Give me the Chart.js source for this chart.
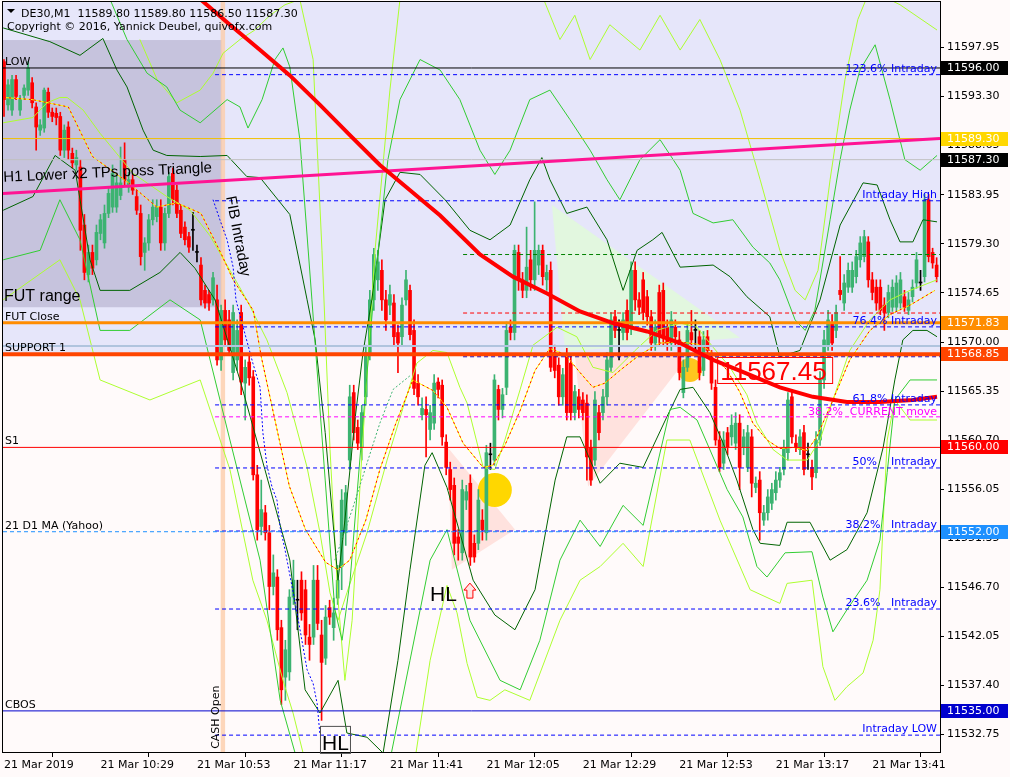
<!DOCTYPE html>
<html>
<head>
<meta charset="utf-8">
<title>DE30,M1</title>
<script src="https://cdn.jsdelivr.net/npm/chart.js@4.4.1/dist/chart.umd.min.js"></script>
<style>
  html, body { margin: 0; padding: 0; background: #fffafa; }
  canvas { display: block; }
</style>
</head>
<body>
<canvas id="chart" width="1010" height="777"></canvas>
<script>
// bar index 0 = 10:05, one bar per minute
const timeTicks = [0, 24, 48, 72, 96, 120, 144, 168, 192, 216];
const timeLabels = ['21 Mar 2019', '21 Mar 10:29', '21 Mar 10:53', '21 Mar 11:17', '21 Mar 11:41',
                    '21 Mar 12:05', '21 Mar 12:29', '21 Mar 12:53', '21 Mar 13:17', '21 Mar 13:41'];
const priceTicks = [11597.95, 11593.30, 11588.65, 11583.95, 11579.30, 11574.65, 11570.00, 11565.35,
                    11560.70, 11556.05, 11551.35, 11546.70, 11542.05, 11537.40, 11532.75];

const opens = [
  11596.6,11592.5,11592.0,11594.9,11592.0,11593.4,11593.9,11594.6,11592.3,11590.1,
  11590.3,11593.7,11591.8,11591.7,11591.4,11588.2,11590.4,11587.9,11586.8,11586.6,
  11581.1,11576.4,11578.5,11577.8,11580.3,11579.4,11582.2,11582.8,11582.8,11583.9,
  11587.3,11584.7,11585.4,11583.8,11582.2,11578.5,11579.4,11581.6,11581.9,11582.8,
  11579.4,11582.2,11586.0,11584.4,11582.5,11580.9,11580.0,11580.6,11578.5,11577.3,
  11574.9,11574.5,11574.0,11574.0,11568.3,11573.0,11572.1,11567.1,11568.3,11572.8,
  11566.1,11568.1,11566.7,11557.4,11552.5,11553.8,11551.9,11546.8,11547.7,11542.9,
  11538.2,11538.7,11545.8,11545.5,11547.4,11546.5,11542.0,11542.0,11547.4,11542.2,
  11540.0,11544.8,11542.9,11545.7,11548.7,11551.9,11558.8,11565.2,11561.9,11560.0,
  11564.8,11569.0,11574.0,11575.9,11576.8,11574.0,11573.5,11573.7,11570.9,11570.5,
  11574.0,11574.9,11571.1,11566.1,11563.1,11563.6,11561.7,11562.3,11566.2,11565.9,
  11560.5,11557.9,11556.4,11551.5,11550.0,11555.0,11556.6,11550.9,11550.9,11553.1,
  11551.9,11559.3,11558.8,11565.5,11563.6,11565.7,11571.4,11570.9,11578.5,11575.9,
  11574.9,11577.8,11575.9,11577.3,11578.7,11575.9,11576.8,11569.0,11567.8,11564.8,
  11568.8,11568.0,11563.3,11564.8,11564.5,11564.2,11560.0,11558.8,11563.3,11563.3,
  11564.8,11567.6,11572.4,11571.1,11570.9,11573.0,11571.4,11576.8,11574.0,11575.9,
  11574.3,11572.4,11569.9,11574.7,11574.9,11571.4,11569.9,11571.4,11570.2,11565.2,
  11567.6,11570.9,11571.1,11570.5,11567.3,11570.5,11568.6,11565.7,11560.7,11558.5,
  11561.4,11561.0,11560.4,11562.3,11560.0,11558.1,11561.0,11556.2,11556.9,11553.1,
  11553.8,11554.7,11555.7,11556.9,11557.9,11559.5,11564.8,11560.4,11559.8,11561.4,
  11559.3,11558.1,11557.6,11560.7,11566.4,11569.7,11571.8,11571.1,11574.9,11573.7,
  11575.2,11575.2,11576.2,11577.8,11578.1,11579.5,11575.9,11575.2,11575.2,11573.5,
  11572.8,11573.3,11573.3,11573.7,11574.3,11573.0,11574.3,11575.6,11575.6,11576.2,
  11583.5,11578.5,11577.3
];
const highs = [
  11596.8,11594.9,11595.3,11595.3,11593.4,11594.4,11596.6,11595.1,11592.7,11591.1,
  11594.1,11594.1,11592.2,11592.2,11591.8,11590.6,11590.9,11588.4,11588.2,11587.3,
  11582.1,11579.2,11579.2,11581.1,11582.1,11583.0,11584.6,11586.8,11585.9,11588.5,
  11588.9,11586.1,11585.9,11584.4,11583.0,11579.9,11582.1,11583.5,11583.5,11583.5,
  11582.7,11586.1,11586.5,11584.9,11583.0,11581.4,11580.4,11582.3,11579.2,11578.0,
  11575.4,11574.9,11576.6,11575.4,11573.5,11574.0,11573.0,11573.5,11572.1,11573.5,
  11568.3,11568.8,11567.3,11558.3,11556.9,11554.5,11552.6,11549.8,11548.4,11543.6,
  11541.7,11546.5,11549.3,11547.4,11548.2,11547.4,11543.2,11548.8,11548.8,11543.6,
  11545.0,11545.5,11545.7,11548.8,11556.0,11556.4,11565.9,11565.9,11562.6,11564.0,
  11569.7,11574.9,11578.9,11578.7,11577.8,11574.9,11575.4,11574.5,11571.6,11574.2,
  11576.8,11575.4,11572.1,11566.9,11564.7,11564.8,11564.0,11566.9,11566.6,11566.4,
  11561.2,11558.6,11557.1,11552.2,11556.9,11556.4,11557.4,11551.7,11556.0,11554.1,
  11560.2,11560.4,11566.9,11565.9,11565.6,11571.9,11572.1,11579.2,11579.2,11576.6,
  11580.9,11578.7,11583.3,11579.2,11579.2,11577.3,11577.6,11569.7,11568.5,11567.5,
  11569.4,11568.8,11565.9,11565.5,11565.2,11565.0,11560.7,11565.3,11564.0,11565.5,
  11569.0,11572.8,11573.0,11572.1,11572.8,11574.0,11577.6,11577.6,11574.7,11576.6,
  11574.9,11573.0,11572.1,11575.4,11575.6,11572.1,11572.9,11572.1,11571.0,11568.3,
  11571.9,11573.0,11572.1,11571.1,11571.0,11571.1,11569.2,11566.4,11561.5,11561.5,
  11561.9,11563.1,11563.3,11563.1,11561.7,11562.1,11561.7,11557.2,11557.7,11554.5,
  11556.0,11556.6,11557.7,11558.1,11560.7,11565.2,11565.5,11561.2,11561.7,11562.1,
  11560.4,11558.8,11561.5,11567.2,11571.1,11573.0,11572.6,11573.5,11578.1,11576.4,
  11577.5,11577.6,11578.7,11580.0,11580.6,11580.0,11576.6,11575.9,11575.9,11574.2,
  11575.4,11575.9,11576.3,11576.6,11574.9,11574.7,11575.9,11578.5,11576.8,11584.0,
  11584.0,11578.9,11578.0
];
const lows = [
  11591.4,11592.0,11591.5,11593.0,11591.5,11593.0,11593.4,11592.2,11588.2,11589.6,
  11589.9,11591.3,11590.9,11590.6,11587.7,11587.5,11587.3,11586.5,11586.3,11578.7,
  11575.9,11575.7,11576.4,11577.3,11579.7,11578.9,11581.8,11582.3,11582.3,11583.5,
  11584.9,11584.2,11584.0,11582.1,11577.3,11576.8,11578.7,11581.1,11581.4,11578.7,
  11578.7,11581.8,11583.0,11581.8,11579.9,11579.2,11578.5,11578.7,11577.6,11573.5,
  11573.2,11573.0,11573.5,11567.8,11567.3,11569.7,11568.8,11566.4,11567.3,11565.0,
  11562.6,11565.9,11556.9,11551.2,11551.7,11551.2,11544.6,11546.0,11541.7,11535.6,
  11536.0,11537.9,11545.1,11542.7,11543.6,11541.3,11539.8,11541.3,11542.7,11534.1,
  11539.4,11543.2,11541.7,11545.1,11546.5,11550.7,11557.9,11560.7,11559.8,11558.8,
  11564.0,11568.3,11573.0,11574.9,11573.0,11571.1,11572.6,11569.7,11567.1,11569.7,
  11573.5,11570.2,11565.0,11564.0,11562.6,11559.1,11560.7,11561.7,11564.7,11560.2,
  11557.4,11555.0,11549.8,11549.3,11549.3,11554.1,11548.8,11549.1,11550.3,11551.2,
  11551.2,11557.9,11558.3,11562.6,11562.8,11565.0,11570.2,11570.2,11574.9,11574.2,
  11574.2,11574.9,11574.9,11576.4,11575.4,11574.9,11567.2,11566.6,11564.0,11564.0,
  11562.6,11562.6,11562.6,11562.8,11562.6,11556.9,11556.4,11558.3,11560.7,11562.6,
  11564.0,11567.2,11570.4,11568.3,11570.2,11570.2,11570.7,11573.0,11572.6,11572.1,
  11571.6,11569.2,11569.2,11569.7,11569.7,11569.2,11569.2,11569.7,11566.4,11564.7,
  11567.2,11569.4,11568.8,11566.4,11566.8,11568.5,11565.5,11560.2,11557.7,11557.9,
  11559.3,11560.2,11559.8,11556.0,11559.3,11557.7,11555.3,11555.7,11551.2,11552.6,
  11553.1,11554.1,11555.0,11556.2,11557.4,11558.8,11560.4,11559.6,11559.3,11557.4,
  11557.9,11556.0,11557.1,11560.2,11565.6,11569.2,11569.2,11570.4,11574.0,11573.0,
  11574.7,11574.7,11575.6,11577.1,11577.6,11575.2,11574.0,11573.0,11572.6,11571.1,
  11572.3,11572.9,11572.9,11573.2,11572.9,11572.6,11573.8,11575.1,11574.9,11575.7,
  11577.6,11577.0,11575.7
];
const closes = [
  11593.0,11594.4,11594.9,11593.3,11593.0,11594.1,11596.0,11592.7,11590.4,11590.6,
  11593.9,11591.8,11591.4,11591.3,11588.2,11590.1,11588.2,11587.0,11587.5,11580.6,
  11576.6,11578.5,11577.0,11580.4,11581.6,11582.2,11584.1,11586.0,11585.1,11585.1,
  11585.4,11585.4,11584.4,11582.5,11578.1,11579.4,11581.6,11582.8,11582.8,11579.4,
  11582.2,11585.7,11583.5,11582.2,11580.3,11579.7,11579.0,11580.6,11578.5,11574.0,
  11573.7,11573.7,11576.1,11568.3,11573.0,11570.2,11569.2,11572.8,11571.1,11566.2,
  11567.6,11566.6,11557.4,11552.2,11554.1,11551.9,11546.8,11548.1,11542.7,11537.0,
  11540.8,11545.8,11547.4,11545.5,11544.3,11542.2,11541.3,11547.4,11543.3,11539.6,
  11543.9,11543.9,11544.3,11547.4,11555.0,11555.7,11564.8,11561.4,11560.4,11563.3,
  11569.0,11574.0,11578.3,11577.6,11574.0,11572.1,11574.5,11570.5,11569.9,11573.5,
  11575.9,11570.7,11565.6,11564.8,11563.7,11563.1,11563.3,11566.1,11565.5,11561.0,
  11558.1,11556.0,11550.9,11550.9,11556.0,11555.8,11549.6,11549.6,11555.0,11552.2,
  11559.5,11559.3,11566.4,11563.6,11565.0,11571.1,11570.9,11578.7,11575.9,11574.9,
  11577.1,11575.9,11578.7,11578.7,11576.2,11576.6,11567.6,11567.3,11564.8,11566.9,
  11563.3,11563.3,11565.3,11563.6,11563.3,11559.1,11556.9,11564.5,11561.4,11564.8,
  11568.3,11572.1,11571.1,11571.1,11572.1,11570.9,11576.8,11574.0,11573.3,11572.8,
  11572.4,11569.9,11571.4,11570.5,11570.5,11569.9,11572.1,11570.5,11567.1,11567.6,
  11571.1,11570.2,11571.1,11567.1,11570.2,11569.2,11566.1,11560.7,11558.1,11560.7,
  11560.0,11562.1,11562.3,11558.1,11561.0,11561.4,11556.6,11556.6,11553.8,11553.8,
  11555.3,11556.0,11556.9,11557.6,11560.0,11564.5,11561.0,11560.0,11561.0,11557.9,
  11559.3,11557.2,11560.7,11566.4,11570.2,11572.1,11569.9,11572.8,11574.5,11575.6,
  11576.8,11576.8,11578.1,11579.4,11580.0,11575.9,11574.7,11573.7,11573.0,11572.8,
  11574.7,11575.2,11575.6,11575.9,11573.3,11574.0,11575.2,11577.8,11575.6,11583.5,
  11578.1,11577.5,11576.2
];

// indicators: [bar index, price]
const maSlow = [[48,11602.8],[56.2,11600.1],[63.7,11597.7],[71.1,11595.3],[78.6,11592.5],[86.1,11589.6],
  [93.5,11586.8],[101,11584.4],[108.5,11582.0],[118.4,11578.3],[126.6,11576.2],[135.1,11574.6],
  [143.3,11572.9],[151.5,11571.8],[160,11571.0],[168.2,11569.9],[176.4,11568.3],[184.8,11567.0],
  [193,11565.7],[201.2,11564.8],[209.7,11564.3],[217.9,11564.3],[226.1,11564.5],[232.1,11564.8]];
const maFast = [[0,11593.2],[7,11593.0],[16,11592.3],[22,11587.6],[31,11585.1],[38,11582.8],[43,11583.2],
  [49,11582.2],[54,11578.4],[57,11575.9],[62,11573.0],[64,11568.6],[67,11563.3],[71,11556.3],[75,11552.2],
  [80,11549.1],[83,11548.4],[86,11549.3],[90,11553.1],[93.5,11557.9],[97.3,11562.1],[101.7,11566.4],
  [106.7,11565.4],[110.2,11563.8],[114.2,11560.4],[119.2,11558.1],[121.6,11558.3],[124.6,11560.2],
  [128.4,11563.5],[132.1,11567.3],[135.8,11569.4],[139.6,11568.8],[143.3,11567.1],[146.5,11565.7],
  [149.5,11566.1],[153.2,11567.3],[158.2,11568.8],[163.2,11569.9],[168.2,11570.0],[172.4,11569.8],
  [175.6,11569.2],[179.9,11567.3],[183.1,11565.2],[186.3,11562.3],[189.8,11560.7],[193,11559.9],
  [196.3,11560.0],[199.8,11559.7],[202.2,11561.0],[206.2,11564.5],[210.4,11568.3],[215.4,11571.1],
  [220.4,11572.6],[225.4,11573.5],[231.6,11574.9]];
const limeMid = [[-0.2,11590.8],[7.2,11591.3],[10.7,11592.7],[13.9,11593.2],[15.7,11593.2],[19.7,11592.0],
  [23.9,11589.8],[32.1,11586.0],[40.5,11583.8],[46.3,11582.5],[51.2,11580.1],[56.2,11576.8],[60.4,11574.0],
  [65.4,11570.2],[70.4,11565.2],[75.4,11558.1],[78.6,11551.9],[81.1,11546.2],[83.1,11543.6],[85.3,11546.2],
  [90.3,11551.9],[95.3,11558.8],[99.3,11563.8],[102.7,11568.0],[106.7,11569.2],[110.2,11569.0],[113.4,11565.7],
  [115.2,11564.2],[119.2,11558.1],[122.1,11557.9],[124.6,11560.7],[128.4,11565.5],[131.6,11569.7],[137.6,11571.4],
  [142.5,11570.5],[146.5,11567.6],[151.5,11567.1],[157.0,11569.2],[162.4,11571.1],[168.2,11571.8],[172.4,11571.4],
  [176.4,11569.5],[180.6,11567.6],[184.8,11565.0],[187.3,11562.3],[191.3,11559.8],[194.8,11558.8],[199.8,11558.8],
  [203.0,11560.7],[206.2,11564.5],[210.4,11569.2],[215.4,11572.1],[220.4,11574.0],[225.4,11574.9],[232.1,11575.9]];
const bandDarkUpper = [[-0.2,11599.8],[11.4,11598.5],[18.9,11597.2],[24.6,11598.8],[28.1,11595.8],[30.6,11594.2],
  [34.6,11590.1],[37.1,11588.2],[40.5,11587.7],[48.8,11587.6],[55.5,11587.7],[60.4,11585.7],[63.7,11585.6],
  [71.1,11582.1],[75.4,11574.0],[77.4,11570.2],[79.9,11561.4],[83.1,11547.4],[84.8,11553.1],[87.3,11562.6],
  [89.3,11569.0],[91.5,11574.0],[94.8,11583.5],[98.5,11586.1],[103.5,11585.9],[109.7,11583.5],[115.9,11580.6],
  [120.9,11579.7],[125.9,11581.1],[130.8,11585.4],[133.8,11587.5],[135.8,11585.4],[140.0,11582.2],[145.0,11582.8],
  [150.0,11579.7],[154.0,11574.9],[157.5,11578.7],[161.4,11579.7],[163.7,11580.4],[168.2,11577.1],[176.4,11577.3],
  [180.6,11576.2],[184.8,11574.3],[190.5,11572.4],[193.0,11568.6],[198.0,11569.2],[203.0,11574.0],[208.0,11581.1],
  [213.7,11585.1],[217.2,11584.9],[220.4,11581.6],[222.9,11579.5],[226.1,11579.5],[228.6,11581.6],[232.1,11581.4]];
const bandDarkLower = [[-0.2,11582.5],[7.2,11583.8],[12.7,11587.7],[17.7,11586.3],[21.4,11577.8],[23.9,11574.9],
  [31.3,11574.9],[38.8,11576.6],[43.8,11578.5],[47.5,11577.0],[52.5,11574.0],[58.7,11566.4],[64.9,11557.9],
  [71.1,11549.3],[74.9,11537.0],[78.6,11534.8],[83.1,11537.9],[85.3,11532.9],[90.3,11532.5],[94.3,11531.0],
  [98.0,11539.8],[101.0,11548.4],[104.7,11558.3],[106.5,11559.5],[110.2,11556.2],[113.4,11551.9],[116.7,11547.4],
  [122.1,11544.1],[127.1,11542.7],[132.1,11546.5],[137.1,11556.9],[140.0,11561.0],[143.3,11561.0],[148.3,11556.6],
  [153.2,11558.5],[159.0,11558.1],[164.9,11562.9],[168.2,11565.5],[171.4,11565.7],[175.6,11563.3],[178.9,11560.4],
  [182.3,11556.9],[186.3,11552.2],[188.1,11550.9],[193.0,11550.7],[194.8,11552.9],[200.5,11552.9],[205.5,11549.3],
  [209.7,11550.3],[214.7,11553.8],[218.7,11560.0],[221.6,11566.4],[223.6,11570.2],[226.1,11571.1],[229.6,11571.1],
  [232.1,11570.5]];
const bandGreenUpper = [[26.4,11602.5],[30.6,11598.7],[35.6,11595.5],[40.5,11594.2],[43.8,11592.0],[48.8,11590.8],
  [55.5,11593.0],[58.7,11592.3],[60.7,11590.3],[64.2,11593.0],[67.4,11596.8],[69.4,11597.9],[71.1,11596.1],
  [73.6,11589.2],[76.6,11574.0],[79.9,11556.9],[82.3,11544.6],[84.1,11541.7],[86.1,11547.4],[89.1,11561.6],
  [92.3,11575.9],[95.5,11587.3],[98.5,11593.0],[103.5,11596.8],[108.5,11595.8],[113.4,11593.0],[118.4,11588.2],
  [122.1,11585.9],[125.9,11588.2],[130.8,11593.0],[135.8,11593.9],[140.8,11591.1],[145.8,11588.2],[150.0,11585.4],
  [153.2,11583.5],[158.2,11587.3],[163.2,11589.2],[168.2,11586.3],[171.4,11582.2],[176.4,11581.3],[181.3,11581.6],
  [186.3,11579.0],[190.5,11577.5],[193.0,11575.9],[196.8,11572.1],[199.3,11571.1],[201.7,11573.0],[205.5,11581.6],
  [208.0,11587.3],[210.4,11592.0],[212.9,11595.8],[216.7,11598.2],[220.4,11593.0],[224.1,11587.3],[227.9,11586.3],
  [232.1,11587.7]];
const bandGreenLower = [[-0.2,11577.8],[9.0,11578.7],[13.9,11583.5],[18.9,11579.7],[23.9,11571.1],[31.3,11571.1],
  [41.3,11574.0],[48.8,11572.1],[56.2,11560.7],[63.7,11549.3],[68.7,11536.0],[73.6,11529.4],[88.6,11528.4],
  [96.0,11530.3],[101.0,11539.8],[106.0,11549.3],[110.2,11552.2],[115.9,11543.6],[123.4,11537.9],[128.4,11537.0],
  [133.3,11541.7],[138.3,11549.3],[143.3,11553.1],[148.3,11550.6],[154.0,11554.5],[159.0,11552.6],[165.7,11563.6],
  [168.2,11563.8],[172.4,11562.6],[179.9,11556.0],[183.8,11553.4],[187.3,11548.7],[189.8,11547.7],[194.3,11550.0],
  [201.0,11550.1],[203.7,11545.8],[206.2,11542.5],[209.7,11544.6],[214.7,11547.4],[217.9,11551.2],[219.7,11557.6],
  [221.6,11564.5],[225.4,11566.4],[232.1,11566.4]];
const bandLimeUpper = [[33.8,11598.7],[38.1,11594.9],[43.0,11592.7],[48.8,11593.9],[52.0,11595.5],[54.5,11597.4],
  [58.7,11598.7],[62.4,11599.6],[66.2,11601.0],[69.9,11602.0],[73.6,11602.5],[76.9,11596.8],[79.1,11578.7],
  [81.1,11559.8],[83.1,11545.5],[84.8,11537.9],[86.6,11543.6],[89.1,11559.8],[92.3,11578.7],[96.0,11593.9],
  [98.5,11602.5],[133.3,11603.4],[138.3,11598.7],[142.0,11601.0],[145.8,11596.8],[150.7,11600.1],[158.2,11597.7],
  [163.2,11601.0],[168.2,11597.7],[173.1,11600.6],[178.1,11596.8],[183.1,11592.0],[188.1,11585.4],[193.0,11578.7],
  [196.8,11574.9],[199.3,11574.0],[202.5,11576.8],[205.5,11585.4],[209.2,11594.9],[212.4,11600.6],[215.4,11603.4],
  [222.9,11602.0],[232.1,11599.6]];
const bandLimeLower = [[-0.2,11574.0],[13.9,11577.8],[18.9,11574.0],[23.9,11566.4],[36.3,11564.5],[48.8,11566.4],
  [56.2,11557.9],[61.9,11547.4],[65.4,11543.6],[69.4,11537.9],[71.9,11534.8],[74.4,11531.0],[77.4,11527.5],
  [98.5,11527.5],[102.2,11530.3],[106.0,11539.8],[110.2,11546.9],[112.7,11544.3],[115.2,11539.5],[117.7,11536.3],
  [120.9,11536.0],[124.6,11537.0],[130.8,11536.0],[138.3,11543.6],[143.3,11547.4],[148.3,11548.7],[154.0,11550.9],
  [159.0,11548.7],[164.9,11560.7],[170.6,11560.7],[178.1,11553.1],[185.6,11546.5],[193.0,11545.2],[194.8,11547.1],
  [201.0,11547.4],[203.7,11539.2],[206.7,11536.0],[209.7,11537.3],[213.7,11538.6],[216.2,11541.7],[217.9,11546.5],
  [219.7,11560.7],[221.6,11564.5],[225.4,11562.6],[232.1,11562.6]];
const fibPath = [[52.0,11583.5],[53.7,11581.6],[55.5,11579.7],[57.0,11577.1],[57.7,11574.0],[59.5,11571.4],
  [61.9,11568.0],[63.7,11565.7],[64.4,11561.4],[65.4,11558.3],[66.7,11556.2],[67.9,11555.0],[68.7,11552.4],
  [69.9,11550.3],[71.1,11547.9],[72.9,11544.3],[75.4,11538.9],[76.9,11537.6],[77.9,11535.7],[78.6,11532.7]];
const greenDotted = [[82.3,11549.3],[86.8,11554.3],[90.3,11558.5],[93.5,11562.3],[96.8,11565.5],[101.0,11566.8]];
const trendLine = [[-0.25,11584.1],[232.84,11589.3]];

// horizontal levels across the whole chart
const levelNames  = ['LOW', 'FUT Close', 'SUPPORT 1', 'S1', '21 D1 MA (Yahoo)', 'CBOS'];
const levelValues = [11596.00, 11571.83, 11568.85, 11560.00, 11552.00, 11535.00];
const levelColors = ['#000000', '#ff8c00', '#ff4500', '#ff0000', '#1e90ff', '#0000cd'];
const levelWidths = [1, 3, 4, 1, 1, 1];
const extraLines  = [[11589.30, '#f0c000'], [11587.30, '#c0c0c0'], [11569.62, '#b0c4de']];

// fibonacci "Intraday"
const fibHigh = 11583.4, fibLow = 11532.7, fibStart = 52.5;
const fibRatios = [1.236, 1, 0.764, 0.618, 0.5, 0.382, 0.236, 0];
const fibLabels = ['123.6% Intraday', 'Intraday High', '76.4% Intraday', '61.8% Intraday',
                   '50%    Intraday', '38.2%   Intraday', '23.6%   Intraday', 'Intraday LOW'];
// "current move" levels
const moveStart = 114.2;
const moveValues = [11578.3, 11572.75, 11568.6];
const moveColors = ['#008000', '#ff0000', '#0000cd'];
const currentMove = 11562.9;

// price markers on the right axis
const markerValues = [11596.00, 11589.30, 11587.30, 11571.83, 11568.85, 11560.00, 11552.00, 11535.00];
const markerColors = ['#000000', '#ffd700', '#000000', '#ff8c00', '#ff4500', '#ff0000', '#1e90ff', '#0000cd'];

const X_MIN = -0.25, X_MAX = 232.84, Y_MIN = 11531.1, Y_MAX = 11602.26;

// candles
const bodyData = [], wickData = [], candleColors = [];
for (let k = 0; k < closes.length; k++) {
  const o = opens[k], c = closes[k];
  candleColors.push(c > o ? '#3cb371' : (c < o ? '#ff0000' : '#000000'));
  bodyData.push({ x: k, y: [o, c] });
  wickData.push({ x: k, y: [lows[k], highs[k]] });
}

function pts(arr) { return arr.map(p => ({ x: p[0], y: p[1] })); }
function lineDs(data, color, width, dash, order) {
  return { type: 'line', data: pts(data), borderColor: color, borderWidth: width, borderDash: dash || [],
           pointRadius: 0, fill: false, tension: 0, order: order };
}

const datasets = [
  { type: 'bubble', data: [{ x: 122.1, y: 11555.96, r: 17 }, { x: 170.6, y: 11567.35, r: 12 }],
    backgroundColor: ['#ffd700', '#ffc51e'], borderWidth: 0, order: 40 },
  { type: 'bar', data: wickData, backgroundColor: candleColors, barThickness: 1, grouped: false,
    borderWidth: 0, order: 31 },
  { type: 'bar', data: bodyData, backgroundColor: candleColors, barThickness: 3, grouped: false,
    borderWidth: 0, minBarLength: 1, order: 30 },
  lineDs(bandLimeUpper, '#adff2f', 1, null, 21),
  lineDs(bandLimeLower, '#adff2f', 1, null, 21),
  lineDs(limeMid, '#adff2f', 1, null, 21),
  lineDs(bandGreenUpper, '#32cd32', 1, null, 20),
  lineDs(bandGreenLower, '#32cd32', 1, null, 20),
  lineDs(bandDarkUpper, '#006400', 1, null, 20),
  lineDs(bandDarkLower, '#006400', 1, null, 20),
  lineDs(greenDotted, '#3cb371', 1, [2, 2], 19),
  lineDs(maFast, '#ffff00', 1, null, 19),
  lineDs(maFast, '#ff0000', 1, [2, 3], 18),
  lineDs(fibPath, '#0000ff', 1, [2, 2], 18)
];
extraLines.forEach(l => datasets.push(lineDs([[X_MIN, l[0]], [X_MAX, l[0]]], l[1], l[1] === '#b0c4de' ? 2 : 1, null, 12)));
fibRatios.forEach(r => {
  const v = fibLow + r * (fibHigh - fibLow);
  datasets.push(lineDs([[fibStart, v], [X_MAX, v]], '#0000ff', 1, [4, 3], 11));
});
moveValues.forEach((v, k) => datasets.push(lineDs([[moveStart, v], [X_MAX, v]], moveColors[k], 1, [4, 3], 11)));
datasets.push(lineDs([[fibStart, currentMove], [X_MAX, currentMove]], '#ff00ff', 1, [4, 3], 11));
levelValues.forEach((v, k) => datasets.push(lineDs([[X_MIN, v], [X_MAX, v]], levelColors[k], levelWidths[k],
  levelNames[k].indexOf('Yahoo') >= 0 ? [4, 3] : null, 10)));
datasets.push(lineDs(trendLine, '#ff1493', 3, null, 9));
datasets.push(lineDs(maSlow, '#ff0000', 4, null, 5));

// background objects: [x0, x1, p0, p1, colour]
const zones = [
  [X_MIN, X_MAX, 11568.85, 11610, '#e6e6fa'],
  [X_MIN, 54.2, 11573.3, 11598.65, '#c6c3dd'],
  [53.9, 55.0, 11520, 11610, 'rgba(252,205,170,0.8)']
];
const triangles = [
  [[136.3, 11583.0], [183.1, 11570.4], [139.6, 11569.1], '#e2f7df'],
  [[142.0, 11568.8], [145.3, 11556.3], [170.6, 11568.8], '#ffe2de'],
  [[110.4, 11560.0], [111.4, 11548.4], [127.1, 11552.2], '#ffe2de']
];

const overlay = {
  id: 'overlay',
  beforeDatasetsDraw(chart) {
    const { ctx, chartArea: a, scales: { x, y } } = chart;
    ctx.save();
    ctx.beginPath(); ctx.rect(a.left, a.top, a.right - a.left, a.bottom - a.top); ctx.clip();
    zones.forEach(z => {
      const x0 = x.getPixelForValue(z[0]), x1 = x.getPixelForValue(z[1]);
      const y0 = y.getPixelForValue(z[3]), y1 = y.getPixelForValue(z[2]);
      ctx.fillStyle = z[4];
      ctx.fillRect(x0, y0, x1 - x0, y1 - y0);
    });
    triangles.forEach(t => {
      ctx.beginPath();
      for (let k = 0; k < 3; k++) {
        const px = x.getPixelForValue(t[k][0]), py = y.getPixelForValue(t[k][1]);
        k === 0 ? ctx.moveTo(px, py) : ctx.lineTo(px, py);
      }
      ctx.closePath();
      ctx.fillStyle = t[3];
      ctx.fill();
    });
    ctx.restore();
  },
  afterDatasetsDraw(chart) {
    const { ctx, chartArea: a, scales: { x, y } } = chart;
    const px = v => x.getPixelForValue(v), py = v => y.getPixelForValue(v);
    ctx.save();
    ctx.textBaseline = 'alphabetic';

    // frame
    ctx.strokeStyle = '#000'; ctx.lineWidth = 1;
    ctx.strokeRect(a.left - 0.5, a.top - 0.5, a.right - a.left + 1, a.bottom - a.top + 1);

    // header
    ctx.fillStyle = '#000';
    ctx.beginPath(); ctx.moveTo(7, 9); ctx.lineTo(15, 9); ctx.lineTo(11, 13); ctx.closePath(); ctx.fill();
    ctx.font = "11px 'DejaVu Sans'";
    ctx.fillText('DE30,M1  11589.80 11589.80 11586.50 11587.30', 21, 17);
    ctx.fillText('Copyright \u00a9 2016, Yannick Deubel, quivofx.com', 7, 30);

    // level names on the left
    levelNames.forEach((n, k) => ctx.fillText(n, a.left + 2, py(levelValues[k]) - 3));

    // fibonacci labels on the right
    ctx.textAlign = 'right';
    ctx.fillStyle = '#0000ff';
    fibRatios.forEach((r, k) => ctx.fillText(fibLabels[k], a.right - 3, py(fibLow + r * (fibHigh - fibLow)) - 3));
    ctx.fillStyle = '#ff00ff';
    ctx.fillText('38.2%  CURRENT move', a.right - 3, py(currentMove) - 2);
    ctx.textAlign = 'left';

    // chart notes
    ctx.fillStyle = '#000';
    ctx.save();
    ctx.translate(px(-0.1), py(11585.2)); ctx.rotate(-0.046);
    ctx.font = "15px 'Liberation Sans'"; ctx.fillText('H1 Lower x2 TPs poss Triangle', 0, 0);
    ctx.restore();
    ctx.font = "16px 'Liberation Sans'";
    ctx.fillText('FUT range', px(0), py(11573.9));
    ctx.save();
    ctx.translate(px(55.2), py(11583.76)); ctx.rotate(1.379);
    ctx.font = "15px 'Liberation Sans'"; ctx.fillText('FIB Intraday', 0, 0);
    ctx.restore();
    ctx.save();
    ctx.translate(px(53.5), py(11531.4)); ctx.rotate(-Math.PI / 2);
    ctx.font = "11px 'DejaVu Sans'"; ctx.fillText('CASH Open', 0, 0);
    ctx.restore();

    ctx.font = "21px 'Liberation Sans'";
    ctx.fillText('HL', px(106.0), py(11545.4));
    const hx = px(79.1), hy = py(11531.3);
    ctx.fillText('HL', hx, hy);
    ctx.strokeStyle = '#505050';
    ctx.strokeRect(hx - 1.5, hy - 23.5, 30, 27);

    // red up arrow
    const ax = px(115.9), ay = py(11545.7);
    ctx.beginPath();
    ctx.moveTo(ax, ay - 15); ctx.lineTo(ax + 6, ay - 8); ctx.lineTo(ax + 3, ay - 8); ctx.lineTo(ax + 3, ay);
    ctx.lineTo(ax - 3, ay); ctx.lineTo(ax - 3, ay - 8); ctx.lineTo(ax - 6, ay - 8); ctx.closePath();
    ctx.fillStyle = '#ffe4e4'; ctx.fill();
    ctx.strokeStyle = '#ff0000'; ctx.lineWidth = 1; ctx.stroke();

    // price note box
    const bx = px(177.4), by = py(11568.58);
    ctx.strokeStyle = '#ff0000';
    ctx.strokeRect(bx + 0.5, by + 0.5, 115, 26);
    ctx.fillStyle = '#ff0000';
    ctx.font = "26px 'Liberation Sans'";
    ctx.fillText('11567.45', bx + 3, by + 23);

    // price markers on the axis
    ctx.font = "11px 'DejaVu Sans'";
    ctx.textBaseline = 'middle';
    markerValues.forEach((v, k) => {
      const yy = Math.round(py(v));
      ctx.fillStyle = markerColors[k];
      ctx.fillRect(a.right + 1, yy - 7, 67, 14);
      ctx.fillStyle = '#ffffff';
      ctx.fillText(v.toFixed(2), a.right + 7, yy + 0.5);
    });
    ctx.restore();
  }
};

Chart.defaults.font.family = "'DejaVu Sans', sans-serif";
Chart.defaults.font.size = 11;
Chart.defaults.color = '#000000';

new Chart(document.getElementById('chart'), {
  type: 'bar',
  data: { datasets: datasets },
  options: {
    responsive: false,
    animation: false,
    devicePixelRatio: 1,
    layout: { autoPadding: false, padding: { left: 3, top: 2, right: 0, bottom: 0 } },
    plugins: { legend: { display: false }, tooltip: { enabled: false } },
    scales: {
      x: {
        type: 'linear', min: X_MIN, max: X_MAX, offset: false,
        afterBuildTicks: s => { s.ticks = timeTicks.map(v => ({ value: v })); },
        afterFit: s => { s.height = 25; s.paddingLeft = 0; s.paddingRight = 0; },
        grid: { drawOnChartArea: false, tickLength: 5, color: '#000' },
        border: { display: true, color: '#000' },
        ticks: { align: 'start', maxRotation: 0, autoSkip: false, padding: 2, color: '#000',
                 callback: (v, k) => timeLabels[k] }
      },
      y: {
        type: 'linear', position: 'right', min: Y_MIN, max: Y_MAX,
        afterBuildTicks: s => { s.ticks = priceTicks.map(v => ({ value: v })); },
        afterFit: s => { s.width = 70; s.paddingTop = 0; s.paddingBottom = 0; },
        grid: { drawOnChartArea: false, tickLength: 4, color: '#000' },
        border: { display: true, color: '#000' },
        ticks: { autoSkip: false, padding: 3, color: '#000', callback: v => v.toFixed(2) }
      }
    }
  },
  plugins: [overlay]
});
</script>
</body>
</html>
